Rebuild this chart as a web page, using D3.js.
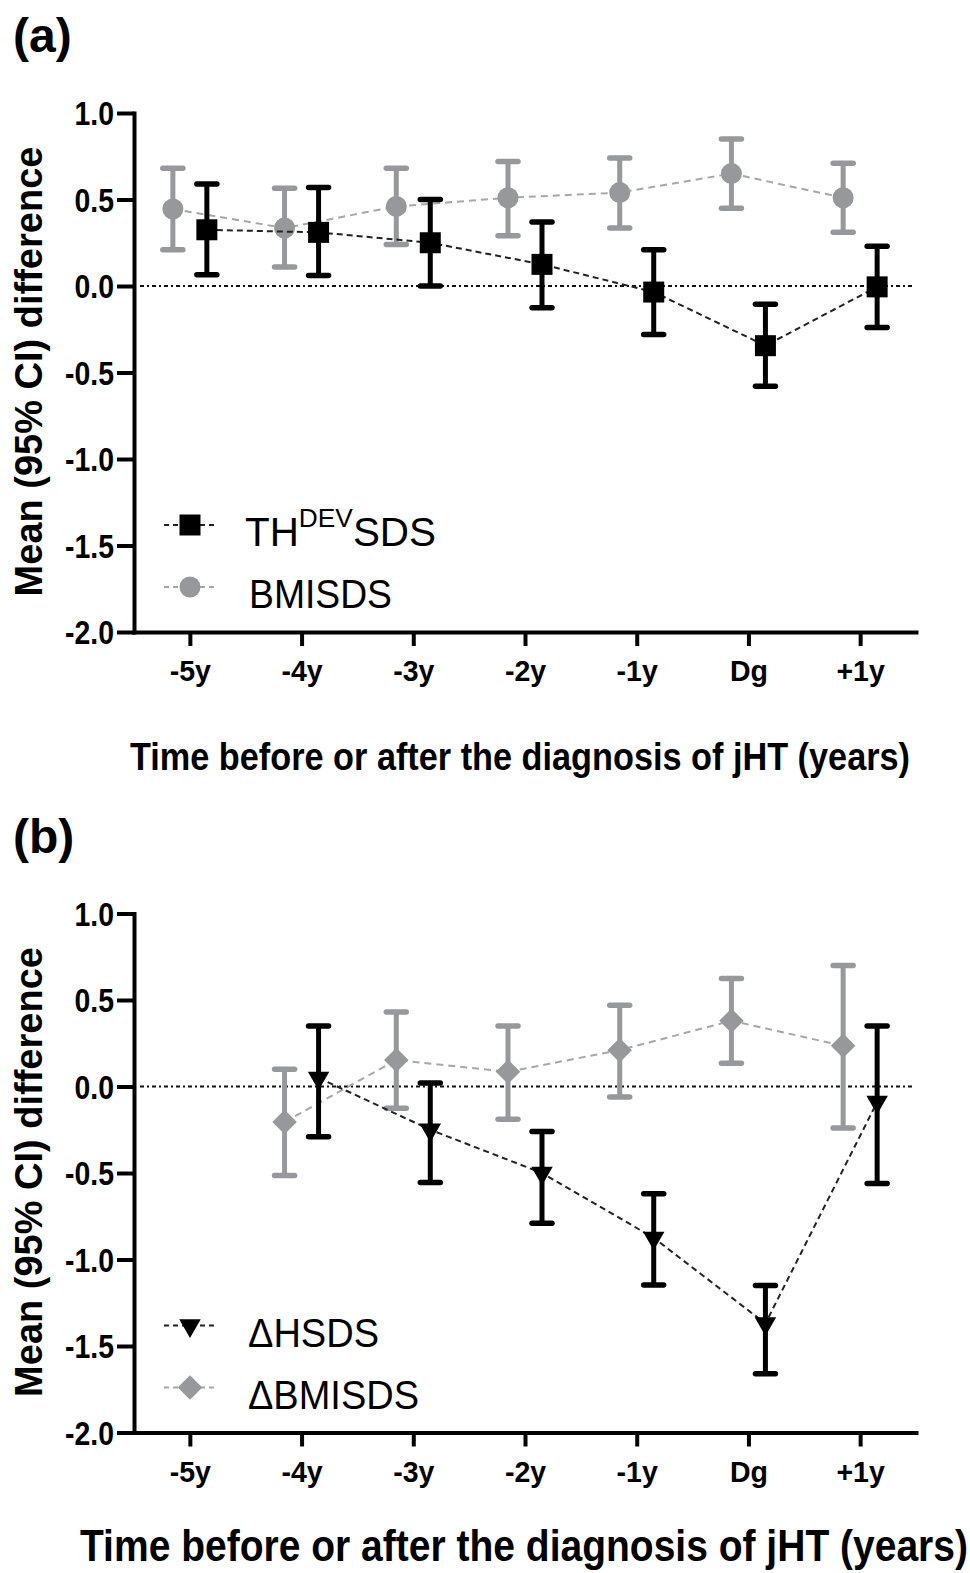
<!DOCTYPE html>
<html>
<head>
<meta charset="utf-8">
<script src="https://cdn.jsdelivr.net/npm/d3@7"></script>
<style>
  html, body { margin: 0; padding: 0; background: #fff; }
  svg { display: block; font-family: "Liberation Sans", Arial, Helvetica, sans-serif; }
</style>
</head>
<body>
<svg id="chart" width="970" height="1573"></svg>
<script>
// ---------- DATA ----------
const categories = ["-5y", "-4y", "-3y", "-2y", "-1y", "Dg", "+1y"];
const yTicks = [1.0, 0.5, 0.0, -0.5, -1.0, -1.5, -2.0];

// Panel (a)
const thdevMean = [0.325, 0.31, 0.25, 0.125, -0.035, -0.345, -0.005];
const thdevLow  = [0.065, 0.06, 0.0, -0.125, -0.28, -0.58, -0.24];
const thdevHigh = [0.59, 0.57, 0.50, 0.37, 0.21, -0.105, 0.23];
const bmiMean   = [0.445, 0.335, 0.46, 0.51, 0.54, 0.65, 0.51];
const bmiLow    = [0.21, 0.11, 0.24, 0.29, 0.335, 0.45, 0.31];
const bmiHigh   = [0.68, 0.565, 0.68, 0.72, 0.74, 0.85, 0.71];

// Panel (b)
const dhMean    = [null, 0.05, -0.25, -0.50, -0.875, -1.37, -0.09];
const dhLow     = [null, -0.29, -0.555, -0.79, -1.148, -1.66, -0.56];
const dhHigh    = [null, 0.35, 0.02, -0.26, -0.62, -1.15, 0.35];
const dbmiMean  = [null, -0.205, 0.153, 0.085, 0.21, 0.38, 0.235];
const dbmiLow   = [null, -0.515, -0.125, -0.19, -0.06, 0.135, -0.24];
const dbmiHigh  = [null, 0.10, 0.43, 0.35, 0.47, 0.625, 0.70];

const xTitle = "Time before or after the diagnosis of jHT (years)";
const yTitle = "Mean (95% CI) difference";

// ---------- STYLE ----------
const BLACK = "#000";
const GRAY = "#97989b";
const GRAYLINE = "#a6a7a9";

const svg = d3.select("#chart");

function condense(sel, f) {
  sel.each(function() {
    const len = this.getComputedTextLength();
    d3.select(this).attr("textLength", len * f).attr("lengthAdjust", "spacingAndGlyphs");
  });
}

function makeSeries(mean, low, high) {
  return categories.map((c, i) => ({ c, m: mean[i], lo: low[i], hi: high[i] }))
                   .filter(d => d.m !== null);
}

function drawPanel(opts) {
  const g = svg.append("g").attr("transform", `translate(0,${opts.dy})`);
  const x = d3.scalePoint().domain(categories).range([134, 916]).padding(0.5);
  const y = d3.scaleLinear().domain([-2, 1]).range([632, 113]);

  // panel label
  g.append("text").attr("x", 13).attr("y", 52)
    .attr("font-size", 48).attr("font-weight", "bold").text(opts.label);

  // zero reference line
  g.append("line")
    .attr("x1", 140).attr("x2", 912)
    .attr("y1", y(0)).attr("y2", y(0))
    .attr("stroke", "#111").attr("stroke-width", 2)
    .attr("stroke-dasharray", "4,3,2,3");

  // series
  opts.series.forEach(s => {
    const data = makeSeries(s.mean, s.low, s.high);
    const px = d => x(d.c) + s.off;
    const line = d3.line().x(px).y(d => y(d.m));
    g.append("path").datum(data).attr("d", line)
      .attr("fill", "none").attr("stroke", s.lineColor)
      .attr("stroke-width", 2).attr("stroke-dasharray", s.dash);

    const eb = g.append("g");
    eb.selectAll(".stem").data(data).enter().append("line")
      .attr("x1", px).attr("x2", px)
      .attr("y1", d => y(d.hi)).attr("y2", d => y(d.lo))
      .attr("stroke", s.color).attr("stroke-width", 5);
    ["hi", "lo"].forEach(k => {
      eb.selectAll(".cap" + k).data(data).enter().append("line")
        .attr("x1", d => px(d) - 10).attr("x2", d => px(d) + 10)
        .attr("y1", d => y(d[k])).attr("y2", d => y(d[k]))
        .attr("stroke", s.color).attr("stroke-width", 5.5)
        .attr("stroke-linecap", "round");
    });
    g.selectAll(null).data(data).enter().append("path")
      .attr("transform", d => `translate(${px(d)},${y(d.m)})` + (s.rot ? ` rotate(${s.rot})` : ""))
      .attr("d", d3.symbol().type(s.symbol).size(s.size))
      .attr("fill", s.color);
  });

  // axes
  const yAxis = d3.axisLeft(y).tickValues(yTicks).tickFormat(d3.format(".1f"))
    .tickSize(17).tickSizeOuter(0).tickPadding(3);
  const ya = g.append("g").attr("transform", "translate(134,0)").call(yAxis);
  ya.select(".domain").attr("stroke-width", 4).attr("stroke", BLACK).attr("stroke-linecap", "square");
  ya.selectAll(".tick line").attr("stroke-width", 4).attr("stroke", BLACK);
  ya.selectAll(".tick text").attr("font-size", 33).attr("font-weight", "bold")
    .attr("font-family", "'Liberation Sans', Arial, sans-serif")
    .attr("fill", BLACK).attr("dy", "0.36em")
    .text(d => d3.format(".1f")(d).replace("\u2212", "-"));
  condense(ya.selectAll(".tick text"), 0.86);

  const xAxis = d3.axisBottom(x).tickSize(14).tickSizeOuter(0).tickPadding(14);
  const xa = g.append("g").attr("transform", "translate(0,632)").call(xAxis);
  xa.select(".domain").attr("stroke-width", 4).attr("stroke", BLACK).attr("stroke-linecap", "square");
  xa.selectAll(".tick line").attr("stroke-width", 4).attr("stroke", BLACK);
  xa.selectAll(".tick text").attr("font-size", 30).attr("font-weight", "bold")
    .attr("font-family", "'Liberation Sans', Arial, sans-serif")
    .attr("fill", BLACK).attr("y", 49).attr("dy", 0);
  condense(xa.selectAll(".tick text"), 0.95);

  // axis titles
  g.append("text")
    .attr("transform", "translate(42,371.5) rotate(-90)")
    .attr("text-anchor", "middle").attr("font-size", 38).attr("font-weight", "bold")
    .text(yTitle);

  g.append("text")
    .attr("transform", `translate(${opts.xt.x},${opts.xt.y}) scale(1,1.15)`)
    .attr("x", 0).attr("y", 0)
    .attr("font-size", opts.xt.size).attr("font-weight", "bold")
    .attr("textLength", opts.xt.len).attr("lengthAdjust", "spacingAndGlyphs")
    .text(xTitle);

  // legend
  opts.series.slice().reverse().forEach((s, i) => {
    const ly = [525, 587][i];
    g.append("line").attr("x1", 164).attr("x2", 218).attr("y1", ly).attr("y2", ly)
      .attr("stroke", s.lineColor).attr("stroke-width", 1.8).attr("stroke-dasharray", "5,4");
    g.append("path")
      .attr("transform", `translate(190,${ly})` + (s.rot ? ` rotate(${s.rot})` : ""))
      .attr("d", d3.symbol().type(s.symbol).size(s.size))
      .attr("fill", s.color);
    const t = g.append("text").attr("x", s.legendX).attr("y", ly + 21)
      .attr("font-size", 40).attr("fill", BLACK);
    s.legend(t);
    if (s.legendLen) t.attr("textLength", s.legendLen).attr("lengthAdjust", "spacingAndGlyphs");
  });
}

// Panel (a): gray drawn first, black on top
drawPanel({
  dy: 0, label: "(a)",
  xt: { x: 130, y: 770, size: 34, len: 780 },
  series: [
    { mean: bmiMean, low: bmiLow, high: bmiHigh, off: -17, color: GRAY, lineColor: GRAYLINE,
      dash: "7,5", symbol: d3.symbolCircle, size: 346, legendX: 249, legendLen: 143,
      legend: t => t.text("BMISDS") },
    { mean: thdevMean, low: thdevLow, high: thdevHigh, off: 17, color: BLACK, lineColor: "#222",
      dash: "6,4", symbol: d3.symbolSquare, size: 441, legendX: 245, legendLen: 191,
      legend: t => {
        t.append("tspan").text("TH");
        t.append("tspan").attr("font-size", 26).attr("dy", -19).text("DEV");
        t.append("tspan").attr("dy", 19).text("SDS");
      } }
  ]
});

// Panel (b)
drawPanel({
  dy: 800.5, label: "(b)",
  xt: { x: 80, y: 760.5, size: 38.5, len: 888 },
  series: [
    { mean: dbmiMean, low: dbmiLow, high: dbmiHigh, off: -17, color: GRAY, lineColor: GRAYLINE,
      dash: "7,5", symbol: d3.symbolSquare, size: 300, rot: 45, legendX: 248, legendLen: 171,
      legend: t => t.text("\u0394BMISDS") },
    { mean: dhMean, low: dhLow, high: dhHigh, off: 17, color: BLACK, lineColor: "#222",
      dash: "6,4", symbol: d3.symbolTriangle, size: 200, rot: 180, legendX: 248, legendLen: 131,
      legend: t => t.text("\u0394HSDS") }
  ]
});
</script>
</body>
</html>
